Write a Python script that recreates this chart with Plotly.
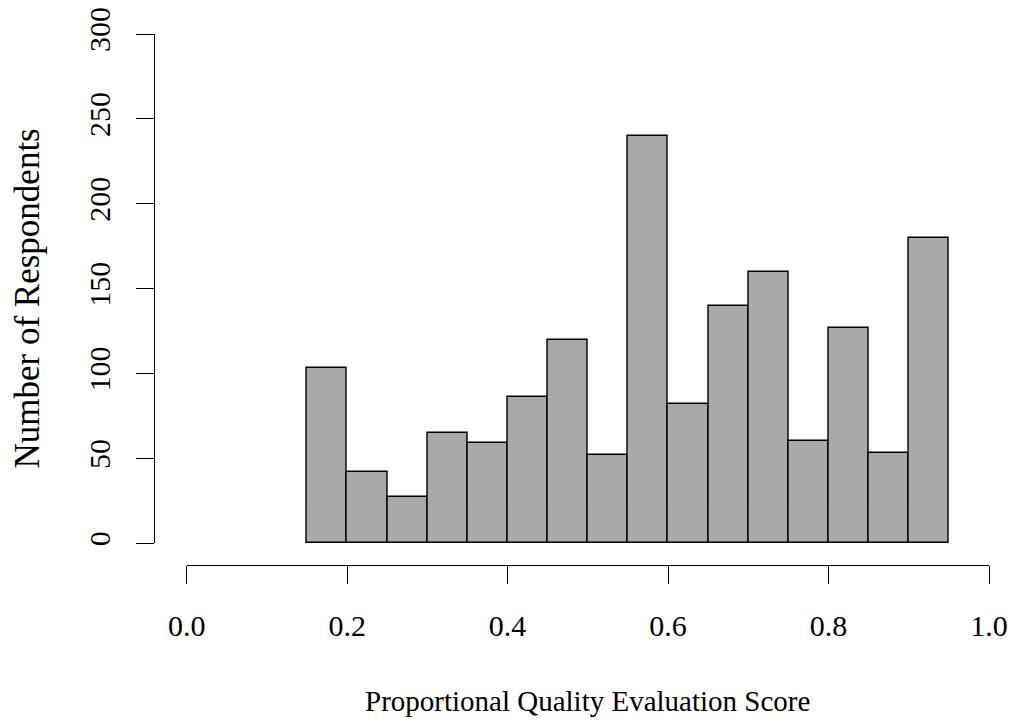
import plotly.graph_objects as go

# Histogram bins (left edges) and counts
bin_starts = [0.15, 0.20, 0.25, 0.30, 0.35, 0.40, 0.45, 0.50,
              0.55, 0.60, 0.65, 0.70, 0.75, 0.80, 0.85, 0.90]
bin_width = 0.05
counts = [103, 42, 27, 65, 59, 86, 120, 52, 240, 82, 140, 160, 60, 127, 53, 180]

x_ticks = [0.0, 0.2, 0.4, 0.6, 0.8, 1.0]
y_ticks = [0, 50, 100, 150, 200, 250, 300]

x_title = "Proportional Quality Evaluation Score"
y_title = "Number of Respondents"

FONT = "Liberation Serif, Times New Roman, serif"

fig = go.Figure()
fig.add_trace(go.Bar(
    x=bin_starts, y=counts, width=bin_width, offset=0,
    marker=dict(color="#A9A9A9", line=dict(color="black", width=1.4)),
    showlegend=False, hoverinfo="x+y",
))

W, H = 1013, 722
ml, mr, mt, mb = 120, 5, 10, 110
pw = W - ml - mr
ph = H - mt - mb

def px_x(p):
    return (p - ml) / pw

def px_y(p):
    return (H - mb - p) / ph

fig.update_layout(
    width=W, height=H,
    margin=dict(l=ml, r=mr, t=mt, b=mb, autoexpand=False),
    paper_bgcolor="white", plot_bgcolor="white",
    font=dict(family=FONT, size=30, color="black"),
    bargap=0,
    xaxis=dict(
        range=[0, 1], domain=[px_x(186.7), px_x(989)],
        anchor="free", position=px_y(565), automargin=False,
        tickvals=x_ticks, tickformat=".1f",
        ticks="outside", ticklen=18, tickwidth=1.4, tickcolor="black",
        showline=True, linecolor="black", linewidth=1.4,
        showgrid=False, zeroline=False,
        ticklabelstandoff=16, ticklabeloverflow="allow",
    ),
    yaxis=dict(
        range=[0, 300], domain=[px_y(543.3), px_y(34)],
        anchor="free", position=px_x(154.3), automargin=False,
        tickvals=y_ticks, tickangle=-90,
        ticks="outside", ticklen=18, tickwidth=1.4, tickcolor="black",
        showline=True, linecolor="black", linewidth=1.4,
        showgrid=False, zeroline=False,
        ticklabelstandoff=14, ticklabeloverflow="allow",
    ),
    annotations=[
        dict(text=x_title, xref="paper", yref="paper",
             x=px_x(587.5), y=px_y(701), showarrow=False,
             xanchor="center", yanchor="middle", font=dict(size=29)),
        dict(text=y_title, xref="paper", yref="paper",
             x=px_x(27), y=px_y(298.5), showarrow=False, textangle=-90,
             xanchor="center", yanchor="middle", font=dict(size=35)),
    ],
)

# remove the default 8px page margin so the figure fills the window exactly
fig.write_html("out.html", config={"displayModeBar": False},
               post_script="document.body.style.margin='0';")
